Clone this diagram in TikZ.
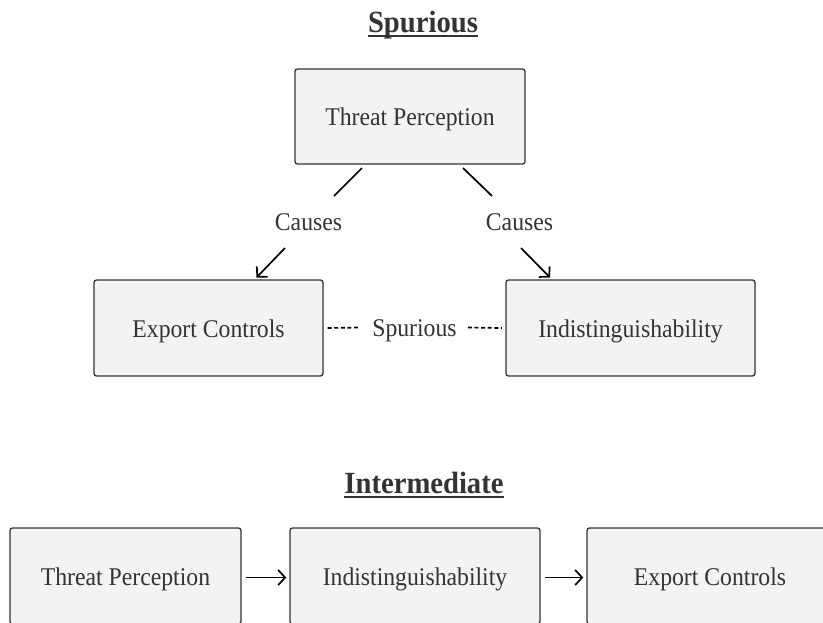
\documentclass[tikz,border=0pt]{standalone}
\usepackage{fontspec}
\setmainfont[FakeStretch=0.93]{Liberation Serif}
\usetikzlibrary{arrows.meta}
\definecolor{txt}{HTML}{333333}
\definecolor{boxfill}{HTML}{F3F3F3}
\definecolor{boxline}{HTML}{333333}
\begin{document}
\begin{tikzpicture}[x=1pt,y=-1pt,
  box/.style={draw=boxline, fill=boxfill, line width=1.3pt, rounded corners=2.5pt,
    inner sep=0pt, text=txt, font=\fontsize{25.5}{30}\selectfont,
    text height=18pt, text depth=0pt},
  lbl/.style={text=txt, font=\fontsize{25.5}{30}\selectfont, inner sep=0pt,
    text height=18pt, text depth=0pt},
  ttl/.style={text=txt, font=\fontsize{30.8}{36}\selectfont\bfseries, inner sep=0pt, anchor=base},
  uline/.style={draw=txt, line width=2pt},
  ln/.style={draw=black, line width=1.7pt},
  arr/.style={ln, -{Straight Barb[length=7pt,width=15pt,line width=1.7pt]}},
  dsh/.style={ln, dash pattern=on 4pt off 2.6pt}]
\useasboundingbox (0,0) rectangle (823,622);
\clip (0,0) rectangle (823,622);
\fill[white] (0,0) rectangle (823,622);

% ---- Spurious ----
\node[ttl] (t1) at (423,32) {Spurious};
\draw[uline] ([yshift=-3.5pt]t1.base west) -- ([yshift=-3.5pt]t1.base east);

\node[box, minimum width=230pt, minimum height=95pt] (tp) at (410,116.5) {Threat Perception};
\node[box, minimum width=229pt, minimum height=96pt] (ec) at (208.5,328) {Export Controls};
\node[box, minimum width=249pt, minimum height=96pt] (ind) at (630.5,328) {Indistinguishability};

\node[lbl] (c1) at (308.5,221) {Causes};
\node[lbl] (c2) at (519.5,221) {Causes};
\coordinate (l1) at (362,168);
\coordinate (l2) at (334,196);
\coordinate (l3) at (285,248);
\coordinate (l4) at (256.5,277.5);
\coordinate (r1) at (463,168);
\coordinate (r2) at (492,196);
\coordinate (r3) at (521,248);
\coordinate (r4) at (550,277.5);
\draw[ln] (l1) -- (l2);
\draw[arr] (l3) -- (l4);
\draw[ln] (r1) -- (r2);
\draw[arr] (r3) -- (r4);

\node[lbl] (sp) at (414.5,327.5) {Spurious};
\draw[dsh] ([xshift=4pt]ec.east) -- ([xshift=-12pt]sp.west);
\draw[dsh] ([xshift=11pt]sp.east) -- ([xshift=-3.5pt]ind.west);

% ---- Intermediate ----
\node[ttl] (t2) at (424,493) {Intermediate};
\draw[uline] ([yshift=-3.5pt]t2.base west) -- ([yshift=-3.5pt]t2.base east);

\node[box, minimum width=231pt, minimum height=96pt] (tp2) at (125.5,576) {Threat Perception};
\node[box, minimum width=250pt, minimum height=96pt] (ind2) at (415,576) {Indistinguishability};
\node[box, minimum width=246pt, minimum height=96pt] (ec2) at (710,576) {Export Controls};

\draw[arr] ([xshift=4pt,yshift=-1.5pt]tp2.east) -- ([xshift=-3pt,yshift=-1.5pt]ind2.west);
\draw[arr] ([xshift=4pt,yshift=-1.5pt]ind2.east) -- ([xshift=-3pt,yshift=-1.5pt]ec2.west);
\end{tikzpicture}
\end{document}
